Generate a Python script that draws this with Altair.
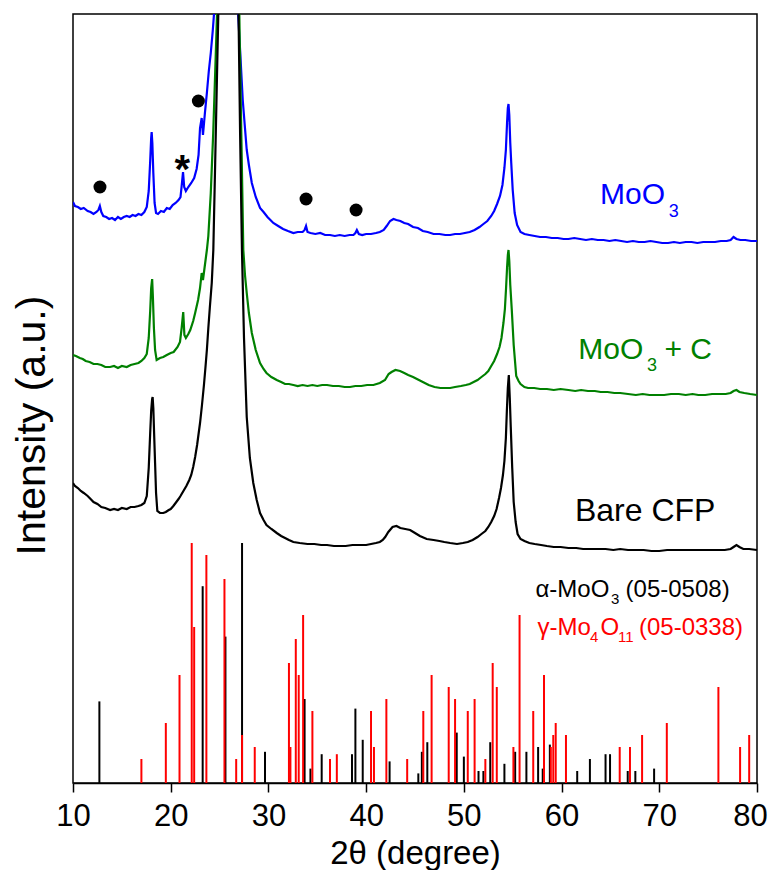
import altair as alt
import pandas as pd

# ---------------- data ----------------
# measured XRD curves: (2theta in degree, intensity in a.u., offset included)
blue_pts = [(10.0, 581), (10.2, 577), (10.5, 576), (10.8, 574), (11.1, 575), (11.5, 572), (11.8, 571), (12.1, 569), (12.4, 571), (12.6, 573), (12.75, 577), (12.9, 571), (13.1, 567), (13.4, 566), (13.7, 564), (14.0, 565), (14.3, 563), (14.6, 566), (14.9, 564), (15.2, 566), (15.5, 567), (15.8, 566), (16.1, 568), (16.4, 567), (16.7, 569), (17.0, 568), (17.3, 571), (17.55, 576), (17.75, 592), (17.9, 622), (18.0, 645), (18.05, 651), (18.12, 640), (18.22, 610), (18.35, 580), (18.5, 570), (18.7, 569), (19.0, 572), (19.3, 571), (19.6, 575), (19.9, 574), (20.2, 578), (20.5, 580), (20.8, 583), (21.0, 586), (21.12, 597), (21.26, 611), (21.38, 596), (21.55, 592), (21.8, 596), (22.1, 600), (22.4, 605), (22.65, 614), (22.85, 628), (23.0, 655), (23.17, 665), (23.3, 648), (23.5, 670), (23.7, 690), (23.9, 712), (24.1, 730), (24.3, 752), (24.43, 769), (24.8, 900), (25.3, 1250), (25.9, 1700), (26.4, 1950), (26.7, 1500), (26.9, 769), (27.1, 733), (27.37, 683), (27.6, 655), (27.78, 633), (28.0, 618), (28.3, 600), (28.7, 586), (29.14, 575), (29.5, 571), (29.9, 566), (30.5, 560), (31.0, 557), (31.5, 554), (32.0, 552), (32.55, 550), (33.0, 551), (33.5, 551), (33.7, 553), (33.85, 557), (34.0, 551), (34.3, 550), (34.8, 549), (35.3, 550), (35.8, 548), (36.3, 548), (36.8, 547), (37.3, 548), (37.8, 547), (38.3, 548), (38.7, 548), (38.9, 550), (39.05, 553), (39.25, 549), (39.6, 548), (40.0, 549), (40.5, 549), (41.0, 550), (41.4, 551), (41.8, 553), (42.1, 557), (42.45, 562), (42.8, 564), (43.1, 563), (43.5, 562), (43.9, 560), (44.3, 559), (44.8, 556), (45.3, 555), (45.8, 552), (46.3, 551), (46.9, 549), (47.5, 549), (48.1, 548), (48.6, 548), (49.1, 549), (49.6, 549), (50.1, 550), (50.6, 551), (51.1, 553), (51.6, 556), (52.0, 559), (52.4, 562), (52.8, 567), (53.1, 572), (53.4, 579), (53.7, 587), (53.95, 598), (54.15, 615), (54.3, 633), (54.42, 660), (54.5, 675), (54.57, 679), (54.65, 668), (54.75, 640), (54.85, 620), (55.0, 593), (55.2, 570), (55.45, 558), (55.8, 551), (56.2, 549), (56.7, 548), (57.25, 547), (57.8, 546), (58.4, 546), (59.0, 545), (59.6, 545), (60.2, 544), (60.7, 544), (61.3, 545), (61.9, 544), (62.5, 543), (63.1, 544), (63.7, 543), (64.3, 543), (64.9, 542), (65.5, 543), (66.1, 542), (66.7, 541), (67.3, 542), (67.9, 541), (68.5, 541), (69.1, 542), (69.7, 541), (70.3, 540), (70.9, 540), (71.5, 541), (72.1, 540), (72.7, 541), (73.3, 541), (73.9, 540), (74.5, 541), (75.1, 541), (75.7, 541), (76.3, 542), (76.9, 542), (77.3, 543), (77.6, 546), (77.9, 544), (78.3, 543), (78.8, 543), (79.4, 542), (80.0, 542)]

green_pts = [(10.0, 428), (10.3, 427), (10.7, 425), (11.0, 424), (11.3, 422), (11.7, 421), (12.1, 419), (12.5, 419), (12.9, 418), (13.3, 416), (13.8, 416), (14.2, 417), (14.6, 415), (15.0, 417), (15.5, 416), (15.9, 418), (16.3, 419), (16.7, 420), (17.0, 422), (17.3, 425), (17.55, 429), (17.75, 445), (17.9, 472), (18.0, 495), (18.1, 504), (18.18, 485), (18.28, 455), (18.4, 433), (18.56, 423), (18.9, 425), (19.24, 426), (19.6, 428), (20.0, 430), (20.3, 431), (20.7, 436), (20.95, 441), (21.12, 455), (21.28, 471), (21.4, 448), (21.55, 445), (21.8, 449), (22.0, 453), (22.3, 462), (22.5, 470), (22.8, 483), (23.0, 495), (23.17, 510), (23.3, 503), (23.5, 518), (23.7, 533), (23.85, 547), (24.1, 590), (24.35, 650), (24.55, 710), (24.74, 769), (25.2, 1000), (25.8, 1600), (26.3, 2000), (26.6, 1900), (26.85, 1300), (27.02, 769), (27.2, 663), (27.43, 533), (27.6, 508), (27.78, 490), (28.0, 470), (28.3, 450), (28.7, 433), (29.14, 420), (29.5, 414), (29.8, 410), (30.3, 406), (30.85, 403), (31.3, 401), (31.7, 399), (32.1, 399), (32.55, 398), (33.0, 397), (33.5, 398), (34.0, 397), (34.5, 398), (35.0, 397), (35.5, 398), (36.0, 398), (36.6, 397), (37.2, 397), (37.8, 396), (38.35, 396), (38.9, 397), (39.5, 397), (40.1, 398), (40.74, 398), (41.4, 400), (41.93, 403), (42.3, 409), (42.6, 411), (43.0, 413), (43.47, 412), (43.9, 410), (44.3, 408), (44.8, 406), (45.2, 404), (45.6, 402), (46.0, 400), (46.4, 398), (47.0, 396), (47.6, 395), (48.1, 395), (48.6, 395), (49.1, 396), (49.7, 397), (50.2, 398), (50.6, 399), (51.0, 401), (51.4, 403), (51.8, 406), (52.2, 409), (52.5, 412), (52.8, 417), (53.1, 422), (53.4, 429), (53.65, 436), (53.85, 445), (54.05, 460), (54.2, 474), (54.32, 495), (54.42, 515), (54.5, 528), (54.57, 533), (54.65, 522), (54.75, 498), (54.9, 474), (55.1, 438), (55.36, 407), (55.6, 402), (55.8, 399), (56.2, 396), (56.57, 395), (57.2, 395), (57.8, 394), (58.5, 394), (59.2, 393), (59.9, 394), (60.7, 393), (61.4, 392), (62.0, 393), (62.7, 392), (63.4, 392), (64.0, 391), (64.7, 391), (65.4, 390), (66.0, 390), (66.8, 389), (67.6, 388), (68.3, 389), (69.0, 388), (69.8, 388), (70.5, 388), (71.2, 389), (72.0, 389), (72.7, 388), (73.4, 389), (74.0, 388), (74.7, 388), (75.4, 389), (76.1, 389), (76.8, 389), (77.3, 390), (77.6, 392), (77.9, 393), (78.2, 391), (78.7, 390), (79.3, 389), (80.0, 388)]

black_pts = [(10.0, 300), (10.2, 297), (10.5, 295), (10.8, 292), (11.1, 290), (11.5, 287), (11.8, 284), (12.1, 281), (12.5, 279), (12.9, 276), (13.3, 275), (13.8, 273), (14.2, 274), (14.6, 273), (15.0, 275), (15.5, 274), (15.9, 276), (16.3, 276), (16.7, 277), (17.0, 278), (17.3, 280), (17.55, 287), (17.75, 315), (17.9, 350), (18.0, 372), (18.1, 384), (18.15, 386), (18.22, 375), (18.3, 350), (18.4, 320), (18.5, 290), (18.63, 272), (18.9, 270), (19.24, 270), (19.5, 271), (19.8, 273), (20.0, 274), (20.27, 277), (20.5, 280), (20.8, 284), (21.0, 287), (21.3, 292), (21.6, 297), (21.9, 303), (22.1, 308), (22.3, 316), (22.5, 326), (22.7, 338), (23.0, 360), (23.2, 378), (23.4, 398), (23.55, 415), (23.7, 433), (23.85, 455), (24.0, 475), (24.2, 500), (24.36, 533), (24.55, 620), (24.72, 700), (24.87, 769), (25.3, 1100), (25.9, 1800), (26.4, 2100), (26.7, 1600), (26.94, 769), (27.1, 650), (27.29, 533), (27.5, 445), (27.78, 366), (28.1, 325), (28.45, 300), (28.8, 283), (29.14, 270), (29.5, 263), (29.8, 258), (30.3, 254), (30.85, 250), (31.3, 247), (31.7, 245), (32.1, 243), (32.55, 241), (33.2, 240), (34.0, 239), (34.7, 239), (35.4, 238), (36.0, 238), (36.7, 237), (37.3, 237), (37.9, 237), (38.6, 238), (39.4, 238), (40.0, 238), (40.5, 239), (41.0, 240), (41.4, 241), (41.7, 243), (41.95, 246), (42.27, 251), (42.7, 256), (43.1, 257), (43.5, 255), (44.0, 254), (44.5, 253), (45.0, 250), (45.5, 247), (46.2, 244), (46.9, 243), (47.5, 242), (48.0, 241), (48.6, 240), (49.3, 239), (49.9, 240), (50.4, 241), (50.9, 243), (51.4, 246), (51.8, 249), (52.2, 252), (52.5, 256), (52.8, 261), (53.1, 267), (53.35, 274), (53.6, 285), (53.8, 295), (54.0, 308), (54.15, 322), (54.3, 345), (54.4, 372), (54.5, 395), (54.6, 408), (54.7, 385), (54.8, 356), (54.95, 315), (55.1, 281), (55.3, 261), (55.5, 249), (55.8, 244), (56.2, 242), (56.7, 240), (57.25, 239), (57.9, 238), (58.5, 237), (59.2, 236), (59.9, 236), (60.7, 235), (61.5, 235), (62.2, 234), (62.9, 234), (63.7, 234), (64.5, 234), (65.3, 233), (66.0, 234), (66.8, 233), (67.6, 233), (68.4, 233), (69.2, 232), (70.0, 232), (70.8, 233), (71.5, 233), (72.2, 233), (73.0, 233), (73.8, 233), (74.5, 233), (75.3, 233), (76.0, 233), (76.7, 233), (77.3, 234), (77.6, 236), (77.9, 238), (78.2, 236), (78.6, 234), (79.2, 234), (80.0, 233)]

# reference patterns (relative intensity, 0-100)
alpha_pos = [12.7, 23.27, 25.6, 27.3, 29.65, 33.7, 34.3, 35.45, 38.55, 38.9, 39.65, 42.4, 45.34, 45.7, 46.26, 49.27, 50.0, 51.5, 52.0, 52.7, 54.15, 55.25, 56.4, 57.6, 58.07, 58.8, 61.6, 62.9, 64.5, 64.96, 66.77, 67.55, 69.47]
alpha_rel = [34, 82, 61, 100, 13, 35, 6, 12, 12, 31, 18, 9, 4, 13, 17, 21, 11, 5, 5, 17, 8, 13, 13, 15, 6, 16, 5, 10, 12, 12, 5, 5, 6]
gamma_pos = [17.0, 19.5, 20.9, 22.15, 22.4, 23.65, 25.5, 26.7, 27.3, 28.6, 32.1, 32.25, 32.8, 33.1, 33.55, 34.5, 36.3, 37.0, 40.5, 40.8, 42.07, 44.2, 45.85, 46.7, 48.45, 49.1, 50.4, 51.1, 52.2, 52.95, 53.37, 55.07, 55.7, 57.1, 58.2, 58.9, 59.15, 59.4, 60.45, 65.95, 67.0, 68.24, 70.77, 76.05, 78.27, 79.2]
gamma_rel = [10, 25, 45, 100, 65, 95, 85, 10, 20, 15, 50, 15, 60, 45, 70, 30, 10, 12, 30, 15, 35, 10, 30, 45, 40, 35, 30, 35, 10, 50, 40, 15, 70, 30, 45, 15, 20, 25, 20, 15, 15, 20, 25, 40, 15, 20]

# phase markers
dot_pos = [12.76, 22.83, 33.85, 38.97]
dot_int = [596, 682, 584, 573]
star_pos = [21.19]
star_int = [600]

# labels: text pieces (main text and subscripts)
label_text = ["MoO", "3", "MoO", "3", "+ C", "Bare CFP",
              "α-MoO", "3", "(05-0508)",
              "γ-Mo", "4", "O", "11", "(05-0338)"]
label_x = [63.93, 70.96, 61.71, 68.74, 70.53, 61.37,
           57.33, 65.06, 66.55,
           57.54, 62.91, 63.98, 65.77, 67.92]
label_y = [579, 566, 424, 412, 424, 262,
           186.5, 179.5, 186.5,
           148.5, 141, 148.5, 141, 148.5]
label_size = [30, 18, 30, 18, 30, 32,
              24, 15, 24,
              24, 15, 24, 15, 24]
label_color = ["#0000ff", "#0000ff", "#008000", "#008000", "#008000", "#000000",
               "#000000", "#000000", "#000000",
               "#ff0000", "#ff0000", "#ff0000", "#ff0000", "#ff0000"]

# ---------------- chart ----------------
FONT = "Liberation Sans"
xs = alt.Scale(domain=[10, 80], nice=False, zero=False)
ys = alt.Scale(domain=[0, 769], nice=False, zero=False)

xaxis = alt.Axis(title="2θ (degree)", values=list(range(10, 81, 10)), tickSize=9,
                 tickWidth=1.5, tickColor="black", domainColor="black", domainWidth=1.5,
                 labelFontSize=31, labelFont=FONT, labelColor="black",
                 labelBaseline="alphabetic", labelPadding=33, labelFlush=False,
                 labelOffset={"condition": {"test": "datum.value >= 80", "value": -7}, "value": 0},
                 grid=False, titleFontSize=33, titleFont=FONT, titleFontWeight="normal",
                 titleColor="black", titleBaseline="alphabetic", titleY=80)
yaxis = alt.Axis(title="Intensity (a.u.)", labels=False, ticks=False, domain=False,
                 grid=False, titleFontSize=41, titleFont=FONT, titleFontWeight="normal",
                 titleColor="black", titleAngle=270, titleBaseline="alphabetic",
                 titleAlign="center", titleX=-29, titleY=411)

X = alt.X("x:Q", scale=xs, axis=xaxis)
Y = alt.Y("y:Q", scale=ys, axis=yaxis)


def curve(pts, color):
    df = pd.DataFrame(pts, columns=["x", "y"])
    return alt.Chart(df).mark_line(color=color, strokeWidth=2.2, clip=True).encode(x=X, y=Y)


def sticks(pos, rel, color):
    df = pd.DataFrame({"x": pos, "rel": rel})
    return (alt.Chart(df)
            .transform_calculate(y="0", h="datum.rel * 2.4")
            .mark_rule(color=color, strokeWidth=2)
            .encode(x=X, y=Y, y2="h:Q"))


dots = alt.Chart(pd.DataFrame({"x": dot_pos, "y": dot_int})).mark_point(
    shape="circle", filled=True, size=169, color="black", opacity=1).encode(x=X, y=Y)

star = alt.Chart(pd.DataFrame({"x": star_pos, "y": star_int})).mark_text(
    text="*", font=FONT, fontSize=40, fontWeight="bold", align="center",
    baseline="alphabetic", color="black").encode(x=X, y=Y)

labels_df = pd.DataFrame({"t": label_text, "x": label_x, "y": label_y,
                          "fs": label_size, "c": label_color})
labels = alt.Chart(labels_df).mark_text(font=FONT, align="left", baseline="alphabetic").encode(
    x=X, y=Y, text="t:N",
    size=alt.Size("fs:Q", scale=None, legend=None),
    color=alt.Color("c:N", scale=None, legend=None))

chart = alt.layer(
    sticks(alpha_pos, alpha_rel, "#000000"),
    sticks(gamma_pos, gamma_rel, "#ff0000"),
    curve(blue_pts, "#0000ff"),
    curve(green_pts, "#008000"),
    curve(black_pts, "#000000"),
    dots, star, labels,
).properties(
    width=684, height=769,
    autosize=alt.AutoSizeParams(type="none"),
    padding={"left": 65, "top": 6, "right": 11, "bottom": 90},
).configure_view(stroke="black", strokeWidth=1.5)

chart.save("out.html", embed_options={"renderer": "svg", "actions": False})
